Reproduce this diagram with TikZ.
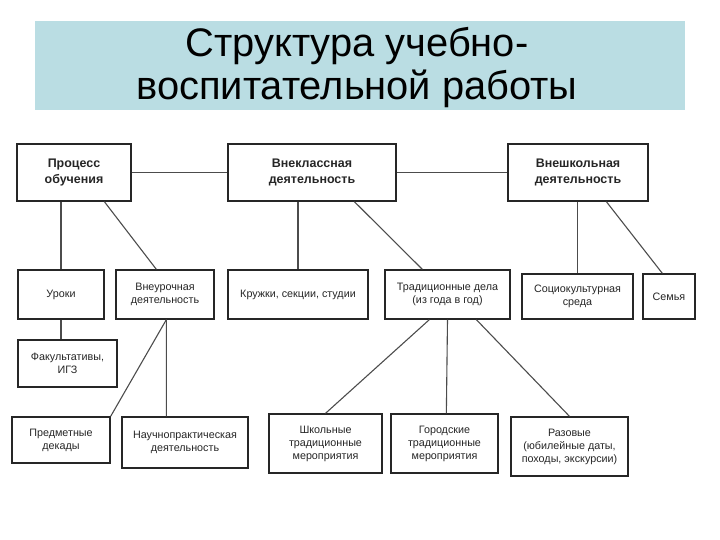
\documentclass[tikz,border=0pt]{standalone}
\usepackage{fontspec}
\setmainfont{Liberation Sans}
\usepackage{tikz}
\definecolor{titleblue}{RGB}{186,221,227}
\tikzset{
  box/.style={draw=black!85, line width=1.3bp, fill=white, align=center,
    inner sep=1bp, text=black!85, font=\fontsize{10.8}{13}\selectfont},
  topbox/.style={box, font=\fontsize{12.5}{16.5}\selectfont\bfseries},
  link/.style={draw=black!70, line width=1.1bp}
}
\begin{document}
\begin{tikzpicture}[x=1bp,y=-1bp]
\useasboundingbox (0,0) rectangle (720,540);
\fill[titleblue] (35,21) rectangle (685,110);
\node[font=\fontsize{40}{44}\selectfont, align=center, anchor=base] (title) at (357,100) {Структура учебно-\\воспитательной работы};

% first row
\node[topbox, minimum width=114bp, minimum height=57bp] (proc) at (74,172.5) {Процесс\\обучения};
\node[topbox, minimum width=168bp, minimum height=57bp] (vnekl) at (312,172.5) {Внеклассная\\деятельность};
\node[topbox, minimum width=140bp, minimum height=57bp] (vnesh) at (578,172.5) {Внешкольная\\деятельность};

% second row
\node[box, minimum width=86bp, minimum height=49bp] (uroki) at (61,294.5) {Уроки};
\node[box, minimum width=98bp, minimum height=49bp] (vneur) at (165,294.5) {Внеурочная\\деятельность};
\node[box, minimum width=140bp, minimum height=49bp] (kruzh) at (298,294.5) {Кружки, секции, студии};
\node[box, minimum width=125bp, minimum height=49bp] (trad) at (447.5,294.5) {Традиционные дела\\(из года в год)};
\node[box, minimum width=111bp, minimum height=45bp] (socio) at (577.5,296.5) {Социокультурная\\среда};
\node[box, minimum width=52bp, minimum height=45bp] (semya) at (669,296.5) {Семья};
\node[box, minimum width=99bp, minimum height=47bp] (fakult) at (67.5,363.5) {Факультативы,\\ИГЗ};

% third row
\node[box, minimum width=98bp, minimum height=46bp] (predm) at (61,440) {Предметные\\декады};
\node[box, minimum width=126bp, minimum height=51bp] (nauch) at (185,442.5) {Научнопрактическая\\деятельность};
\node[box, minimum width=113bp, minimum height=59bp] (shkol) at (325.5,443.5) {Школьные\\традиционные\\мероприятия};
\node[box, minimum width=107bp, minimum height=59bp] (gorod) at (444.5,443.5) {Городские\\традиционные\\мероприятия};
\node[box, minimum width=117bp, minimum height=59bp] (razov) at (569.5,446.5) {Разовые\\(юбилейные даты,\\походы, экскурсии)};

\draw[link] (proc.east) -- (vnekl.west);
\draw[link] (vnekl.east) -- (vnesh.west);
\draw[link] (uroki.north |- proc.south) -- (uroki.north);
\draw[link] ([xshift=88bp]proc.south west) -- ([xshift=41bp]vneur.north west);
\draw[link] (kruzh.north |- vnekl.south) -- (kruzh.north);
\draw[link] ([xshift=127bp]vnekl.south west) -- ([xshift=38bp]trad.north west);
\draw[link] (socio.north |- vnesh.south) -- (socio.north);
\draw[link] ([xshift=99bp]vnesh.south west) -- ([xshift=20bp]semya.north west);
\draw[link] (uroki.south) -- (uroki.south |- fakult.north);
\draw[link] ([xshift=51bp]vneur.south west) -- (predm.north east);
\draw[link] ([xshift=51bp]vneur.south west) -- ([xshift=45bp]nauch.north west);
\draw[link] ([xshift=45bp]trad.south west) -- (shkol.north);
\draw[link] (trad.south) -- ([xshift=56bp]gorod.north west);
\draw[link] ([xshift=92bp]trad.south west) -- (razov.north);
\end{tikzpicture}
\end{document}
